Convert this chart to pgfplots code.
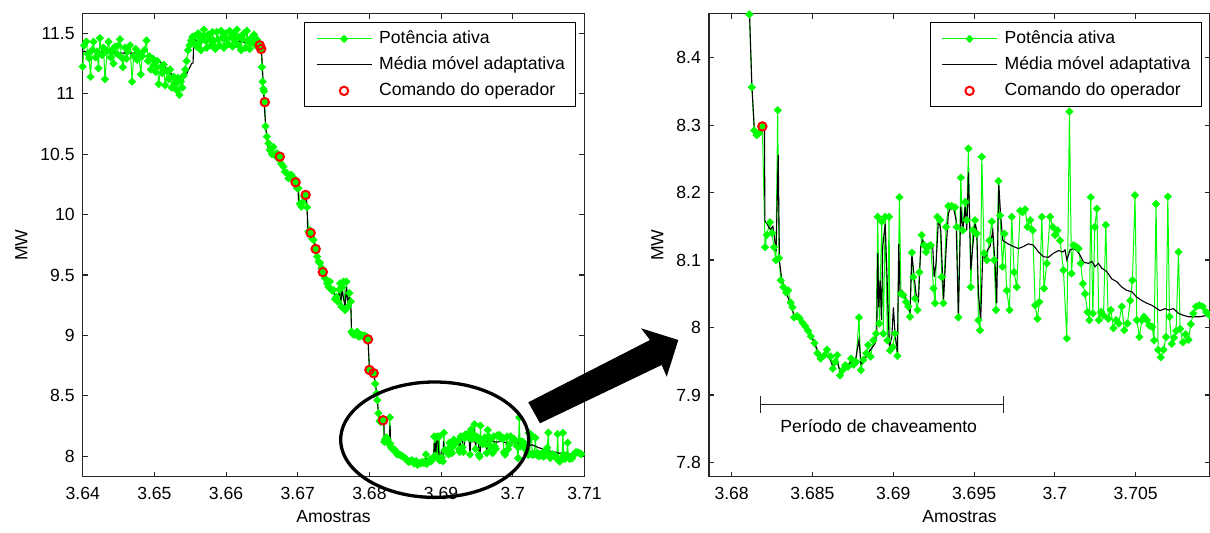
\documentclass[border=0pt]{standalone}
\usepackage{fontspec}
\setmainfont{Liberation Sans}
\usepackage{pgfplots}
\usepackage{pgfplotstable}
\pgfplotsset{compat=1.18}

\definecolor{pgreen}{RGB}{0,255,0}
\definecolor{axgray}{RGB}{38,38,38}

% Potencia ativa (amostra, MW)
\pgfplotstableread{
s v
36400 11.224
36402 11.40
36405 11.431
36407 11.33
36409 11.293
36411 11.14
36413 11.36
36415 11.43
36418 11.30
36420 11.35
36422 11.21
36424 11.46
36427 11.32
36429 11.38
36431 11.12
36434 11.35
36436 11.43
36439 11.30
36441 11.36
36443 11.25
36445 11.39
36448 11.33
36450 11.40
36452 11.45
36454 11.30
36456 11.22
36459 11.38
36461 11.29
36463 11.35
36466 11.40
36469 11.10
36471 11.31
36474 11.37
36476 11.28
36478 11.34
36481 11.16
36483 11.31
36486 11.36
36489 11.44
36491 11.27
36493 11.31
36495 11.20
36498 11.29
36500 11.24
36502 11.18
36504 11.27
36506 11.08
36509 11.22
36511 11.17
36513 11.24
36515 11.07
36518 11.19
36520 11.12
36522 11.20
36524 11.05
36527 11.14
36529 11.09
36531 11.03
36533 11.13
36535 10.99
36537 11.10
36539 11.05
36541 11.15
36543 11.20
36545 11.27
36547 11.36
36549 11.40
36551 11.44
36553 11.47
36555 11.42
36557 11.48
36559 11.39
36561 11.50
36563 11.43
36565 11.36
36567 11.47
36569 11.53
36571 11.44
36573 11.38
36575 11.49
36577 11.45
36579 11.40
36581 11.51
36583 11.44
36585 11.37
36587 11.51
36589 11.45
36591 11.40
36593 11.52
36595 11.46
36597 11.38
36599 11.50
36601 11.45
36603 11.41
36605 11.52
36607 11.47
36609 11.39
36611 11.50
36613 11.44
36615 11.53
36617 11.40
36619 11.47
36621 11.36
36623 11.45
36625 11.50
36627 11.38
36629 11.52
36631 11.43
36633 11.37
36635 11.46
36637 11.42
36639 11.49
36641 11.40
36643 11.45
36645 11.43
36647 11.40
36649 11.37
36650 11.22
36651 11.10
36652 11.04
36653 11.02
36654 10.93
36655 10.73
36657 10.645
36659 10.59
36661 10.535
36664 10.50
36666 10.56
36668 10.49
36671 10.507
36673 10.46
36675 10.479
36677 10.42
36680 10.396
36682 10.355
36685 10.342
36687 10.30
36689 10.313
36691 10.33
36693 10.286
36695 10.30
36697 10.267
36699 10.22
36701 10.217
36703 10.09
36705 10.065
36707 10.10
36709 10.148
36711 10.162
36713 10.06
36715 9.86
36717 9.87
36718 9.848
36720 9.80
36722 9.79
36725 9.715
36727 9.652
36729 9.61
36731 9.60
36733 9.56
36735 9.524
36738 9.473
36741 9.431
36743 9.40
36745 9.445
36748 9.37
36750 9.376
36752 9.30
36754 9.32
36756 9.28
36758 9.38
36759 9.431
36761 9.238
36762 9.40
36764 9.445
36766 9.21
36768 9.445
36770 9.238
36772 9.35
36774 9.28
36775 9.031
36777 9.01
36779 9.004
36781 9.02
36783 9.031
36785 8.99
36787 8.995
36789 9.004
36791 8.99
36793 9.00
36796 8.99
36798 8.967
36800 8.714
36803 8.70
36806 8.687
36808 8.60
36810 8.52
36811 8.464
36812.5 8.356
36814 8.292
36815.5 8.285
36817 8.288
36819 8.298
36820.7 8.119
36821.7 8.137
36823.7 8.156
36825 8.14
36826.2 8.119
36827.4 8.10
36828.5 8.322
36829.3 8.103
36830.4 8.07
36832 8.06
36833.8 8.052
36835 8.055
36836.5 8.037
36837.6 8.03
36838.7 8.015
36840.5 8.017
36842 8.014
36843.9 8.007
36845.5 8.002
36847.3 7.995
36849 7.987
36851.3 7.977
36853 7.962
36855 7.954
36857.4 7.959
36859 7.967
36861.3 7.957
36862.6 7.939
36864 7.949
36865.3 7.959
36867.1 7.929
36868.7 7.937
36870.3 7.944
36872 7.942
36873.9 7.954
36875.5 7.945
36877 7.949
36878.8 8.015
36880 7.937
36881.5 7.952
36883.3 7.962
36884.5 7.974
36886 7.957
36887.7 7.981
36889.4 7.991
36890.4 8.164
36891.4 8.006
36892.9 8.157
36893.9 7.991
36895 8.164
36896.4 7.981
36897.4 8.164
36898 7.966
36899.7 7.971
36901.1 7.991
36902.6 7.958
36903.8 8.193
36904.8 8.050
36906.3 8.048
36907.9 8.038
36909.4 8.031
36910.4 8.016
36911.5 8.111
36912.5 8.075
36913.5 8.043
36915 8.026
36916.2 8.082
36917.6 8.137
36919.1 8.122
36920.3 8.112
36921.8 8.120
36923.2 8.122
36924.9 8.058
36925.9 8.036
36927.3 8.164
36929 8.159
36930 8.075
36931 8.036
36932.7 8.149
36934.1 8.180
36936.2 8.180
36938.3 8.178
36939.3 8.149
36940.3 8.015
36941.8 8.222
36943 8.144
36944.5 8.186
36945.5 8.159
36946.5 8.265
36948 8.060
36949.2 8.144
36950.6 8.159
36951.7 8.139
36952.7 8.011
36953.7 7.996
36954.8 8.253
36956.2 8.110
36957.9 8.100
36959.5 8.129
36961 8.157
36962.4 8.100
36963.6 8.026
36965.1 8.217
36966.1 8.166
36967.6 8.090
36968.8 8.139
36970.2 8.055
36971.9 8.026
36973.3 8.164
36974.8 8.082
36976.4 8.060
36978.5 8.173
36980.1 8.171
36981.6 8.175
36983 8.149
36984.7 8.159
36986.3 8.144
36987.8 8.033
36989.2 8.013
36990.4 8.038
36991.9 8.164
36993.3 8.058
36995 8.095
36997 8.164
36998.7 8.149
37000.1 8.137
37001.6 8.144
37003.2 8.129
37005.3 8.085
37007.4 7.984
37009 8.320
37010.3 8.080
37011.5 8.122
37013.1 8.120
37014.6 8.117
37016 8.095
37017.3 8.065
37018.7 8.050
37020.2 8.023
37021.4 8.011
37022.2 8.193
37023.5 8.021
37024.7 8.149
37026 8.176
37027.2 8.011
37028.6 8.023
37030.1 8.018
37031.5 8.152
37033 8.013
37034.6 8.026
37036.2 7.999
37037.9 8.011
37039.5 8.006
37041.4 8.031
37043 7.996
37044.9 8.006
37046.6 8.040
37048 8.070
37049.6 8.196
37050.7 8.011
37052.3 7.986
37053.8 8.011
37055.2 8.016
37056.9 8.011
37058.5 8.003
37060.2 8.001
37061.4 7.981
37062.6 8.183
37063.9 7.967
37065.5 7.956
37067.2 7.967
37068.8 7.986
37069.9 8.194
37070.9 8.016
37072.3 7.976
37073.8 7.985
37075 7.995
37076.5 8.112
37077.5 7.998
37079.2 7.978
37080.8 7.990
37082.7 7.982
37084.1 8.005
37085.7 8.021
37087.4 8.031
37089.5 8.033
37091.5 8.031
37093.6 8.023
37095.7 8.018
}\tabpotencia

% Media movel adaptativa
\pgfplotstableread{
s v
36400 11.350
36410 11.348
36420 11.350
36430 11.345
36440 11.340
36452 11.335
36462 11.338
36475 11.335
36482 11.322
36494 11.300
36500 11.285
36508 11.265
36517 11.200
36526 11.150
36536 11.140
36543 11.136
36547 11.190
36552 11.250
36554 11.255
36555 11.468
36558 11.440
36564 11.425
36572 11.430
36582 11.432
36592 11.445
36601 11.452
36608 11.464
36614 11.445
36619 11.432
36626 11.425
36633 11.420
36640 11.418
36646 11.417
36649 11.38
36650 11.30
36652 11.07
36653 10.93
36655 10.755
36657 10.62
36659 10.535
36661 10.496
36664 10.53
36666 10.49
36669 10.51
36672 10.48
36675 10.479
36677 10.47
36679 10.39
36682 10.36
36685 10.33
36688 10.31
36691 10.30
36694 10.28
36697 10.27
36700 10.26
36701 10.12
36704 10.08
36707 10.09
36710 10.12
36712 10.16
36713 10.06
36714 9.86
36717 9.855
36719 9.85
36720 9.80
36723 9.79
36725 9.72
36727 9.66
36730 9.61
36733 9.57
36735 9.53
36738 9.48
36741 9.44
36744 9.43
36747 9.39
36750 9.37
36752 9.32
36754 9.33
36756 9.29
36758 9.36
36760 9.28
36762 9.38
36764 9.30
36766 9.24
36768 9.40
36770 9.26
36772 9.32
36774 9.26
36775 9.04
36778 9.01
36782 9.02
36786 9.00
36790 9.00
36794 8.995
36797 8.98
36798 8.97
36800 8.72
36803 8.705
36806 8.69
36808 8.61
36810 8.53
36811 8.47
36812.5 8.36
36814 8.295
36816 8.285
36817.5 8.288
36819 8.293
36820.3 8.293
36820.6 8.158
36822 8.153
36824 8.145
36825.5 8.150
36826.5 8.133
36827.5 8.113
36828.8 8.256
36829.6 8.098
36831 8.072
36833.8 8.052
36836 8.037
36838.3 8.020
36840.5 8.017
36843 8.010
36845 8.004
36847.3 7.997
36849.5 7.987
36851.8 7.974
36854 7.962
36856 7.957
36858.4 7.959
36860.6 7.954
36862.8 7.942
36865 7.952
36867.4 7.932
36869.6 7.937
36871.8 7.944
36874 7.949
36876.3 7.947
36878.8 7.982
36880 7.946
36882 7.952
36884.6 7.962
36886.8 7.970
36888.7 7.976
36889.8 7.991
36890.4 8.110
36891 8.030
36891.9 8.070
36892.7 8.011
36893.5 8.120
36895 8.154
36896 8.085
36897.6 7.971
36899.1 7.986
36900.1 8.030
36901.1 7.991
36902.6 7.962
36903.4 8.124
36904.2 8.050
36905.3 8.055
36906.7 8.050
36908.4 8.040
36910.4 8.023
36911.5 8.110
36912.5 8.085
36914.1 8.050
36915.6 8.040
36917 8.120
36918.3 8.129
36919.7 8.117
36921.1 8.122
36922.8 8.117
36924.4 8.122
36925.3 8.075
36926.5 8.095
36928 8.161
36929.4 8.144
36931.1 8.040
36932.7 8.115
36934.1 8.169
36935.6 8.178
36937.2 8.178
36938.9 8.159
36940.3 8.016
36941.8 8.179
36943 8.140
36944.5 8.179
36945.5 8.144
36946.5 8.230
36948 8.085
36949.2 8.120
36950.6 8.154
36951.7 8.144
36952.7 8.050
36954.1 8.011
36955.4 8.110
36956.8 8.100
36958.3 8.115
36959.9 8.120
36961.6 8.144
36963 8.095
36964 8.036
36965.3 8.213
36966.5 8.164
36967.8 8.129
36971 8.124
36974.4 8.120
36977.5 8.117
36980.5 8.120
36983.6 8.124
36986.7 8.122
36989.8 8.112
36992.9 8.105
36996 8.104
36999.1 8.110
37002.2 8.114
37004.9 8.112
37006.3 8.115
37007.4 8.100
37009.4 8.115
37011.5 8.117
37013.6 8.114
37015.6 8.107
37017.7 8.097
37020.8 8.095
37022.9 8.098
37024.9 8.090
37027 8.095
37029 8.088
37032.1 8.083
37035.2 8.072
37038.3 8.068
37041.4 8.060
37044.5 8.055
37047.6 8.053
37050.7 8.045
37053.8 8.040
37056.9 8.036
37060 8.033
37063.1 8.028
37065.1 8.025
37068.2 8.028
37070.3 8.026
37073.4 8.028
37076.5 8.021
37079.6 8.018
37082.7 8.016
37085.7 8.016
37089.9 8.016
37094 8.018
37096 8.020
}\tabmedia

% Comando do operador
\pgfplotstableread{
s v
36647 11.400
36649 11.370
36654 10.930
36675 10.479
36697 10.267
36711 10.162
36718 9.848
36725 9.715
36735 9.524
36798 8.967
36800 8.714
36806 8.687
36819 8.298
}\tabcomando

\pgfplotsset{
  painel/.style={
    scale only axis,
    height=231.5pt,
    anchor=south west,
    axis line style={line width=0.55pt, draw=axgray},
    every tick/.style={line width=0.55pt, axgray},
    major tick length=2.5pt,
    tick align=inside,
    xtick pos=both, ytick pos=both,
    scaled x ticks=false, scaled y ticks=false,
    font=\fontsize{8.8}{10.5}\selectfont,
    /pgf/number format/assume math mode=true,
    xticklabel style={inner sep=0pt, yshift=-5.15pt},
    yticklabel style={inner sep=0pt, xshift=-3.85pt},
    xlabel style={at={(axis description cs:0.5,-0.0719)}, anchor=north, inner sep=0pt},
    legend cell align=left,
    legend style={at={(1,1)}, anchor=north east, xshift=-4pt, yshift=-4.35pt,
      draw=black, line width=0.5pt, fill=white,
      inner xsep=5.5pt, inner ysep=3.9pt, row sep=4.8pt, column sep=3.5pt,
      font=\fontsize{8.8}{10.5}\selectfont,
      nodes={inner sep=0pt, text height=6.3pt, text depth=1.9pt}},
    legend image code/.code={%
      \draw[mark repeat=2, mark phase=2, ##1] plot coordinates {(0pt,0pt) (13.75pt,0pt) (27.5pt,0pt)};},
  },
  potencia/.style={pgreen, line width=0.5pt, mark=square*, mark size=1.3pt,
    mark options={rotate=45, solid, fill=pgreen, draw=pgreen, line width=0.3pt}},
  media/.style={black, line width=0.55pt, no markers},
  comando/.style={red, only marks, mark=o, mark size=2.1pt, mark options={line width=1pt}},
}

\begin{document}
\begin{tikzpicture}
\useasboundingbox (0,0) rectangle (605pt,266.5pt);

% Visao geral da manobra
\begin{axis}[painel, at={(41.35pt,28.15pt)}, width=250.9pt,
  xmin=36400, xmax=37100, ymin=7.831, ymax=11.662,
  xtick={36400,36500,36600,36700,36800,36900,37000,37100},
  xticklabels={3.64,3.65,3.66,3.67,3.68,3.69,3.7,3.71},
  ytick={8,8.5,9,9.5,10,10.5,11,11.5},
  xlabel={Amostras}, ylabel={MW},
  ylabel style={at={(axis description cs:-0.1222,0.5)}, anchor=center, inner sep=0pt}]
\addplot[potencia] table[x=s, y=v] {\tabpotencia};
\addlegendentry{Potência ativa}
\addplot[media] table[x=s, y=v] {\tabmedia};
\addlegendentry{Média móvel adaptativa}
\addplot[comando] table[x=s, y=v] {\tabcomando};
\addlegendentry{Comando do operador}
\node[anchor=north east, inner sep=0pt] at (axis description cs:1,-0.0784) {x 10\textsuperscript{4}};
\end{axis}

% Detalhe do periodo de chaveamento
\begin{axis}[painel, at={(354.5pt,28.15pt)}, width=250.5pt,
  xmin=36786, xmax=37096, ymin=7.779, ymax=8.465,
  xtick={36800,36850,36900,36950,37000,37050},
  xticklabels={3.68,3.685,3.69,3.695,3.7,3.705},
  ytick={7.8,7.9,8,8.1,8.2,8.3,8.4},
  xlabel={Amostras}, ylabel={MW},
  ylabel style={at={(axis description cs:-0.1032,0.5)}, anchor=center, inner sep=0pt}]
\addplot[potencia] table[x=s, y=v] {\tabpotencia};
\addlegendentry{Potência ativa}
\addplot[media] table[x=s, y=v] {\tabmedia};
\addlegendentry{Média móvel adaptativa}
\addplot[comando] table[x=s, y=v] {\tabcomando};
\addlegendentry{Comando do operador}
\draw[line width=0.5pt, axgray] (axis cs:36818,7.8867) -- (axis cs:36968,7.8867);
\draw[line width=0.5pt, axgray] (axis cs:36818,7.8867) ++(0pt,4.25pt) -- ++(0pt,-8.5pt);
\draw[line width=0.5pt, axgray] (axis cs:36968,7.8867) ++(0pt,4.25pt) -- ++(0pt,-8.5pt);
\node[inner sep=0pt, anchor=center] at (axis cs:36891,7.854) {Período de chaveamento};
\node[anchor=north east, inner sep=0pt] at (axis description cs:1,-0.0784) {x 10\textsuperscript{4}};
\end{axis}

% Destaque e seta ligando os dois paineis
\begin{scope}[x=0.5pt, y=-0.5pt, shift={(0pt,266.5pt)}]
\draw[line width=1.65pt] (434.7,439.7) ellipse [x radius=94, y radius=57.7];
\fill[black] (528.3,402.3) -- (650,340) -- (641,328.3) -- (678.3,340)
  -- (666.7,376.7) -- (661.7,365) -- (540,423.3) -- cycle;
\end{scope}
\end{tikzpicture}
\end{document}
